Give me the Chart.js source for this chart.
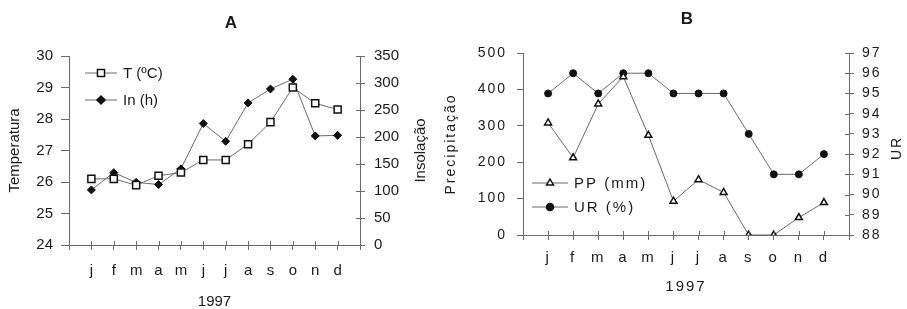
<!DOCTYPE html>
<html>
<head>
<meta charset="utf-8">
<script src="https://cdn.jsdelivr.net/npm/chart.js@4.4.1/dist/chart.umd.min.js"></script>
<style>
  html, body { margin: 0; padding: 0; background: #fff; overflow: hidden; }
  #wrapA { position: absolute; left: 0; top: 0; }
  #wrapB { position: absolute; left: 440px; top: 0; }
</style>
</head>
<body>
<div id="wrapA"><canvas id="chartA" width="440" height="309"></canvas></div>
<div id="wrapB"><canvas id="chartB" width="467" height="309"></canvas></div>
<script>
// Meses de 1997
const months = ['j', 'f', 'm', 'a', 'm', 'j', 'j', 'a', 's', 'o', 'n', 'd'];

// Grafico A
const tempC = [26.1, 26.1, 25.9, 26.2, 26.3, 26.7, 26.7, 27.2, 27.9, 29.0, 28.5, 28.3];
const insolH = [102, 134, 116, 112, 141, 225, 192, 263, 289, 307, 202, 203];

// Grafico B
const precipMM = [308, 212, 360, 435, 274, 93, 152, 117, 0, 0, 48, 89];
const umidadeRel = [95, 96, 95, 96, 96, 95, 95, 95, 93, 91, 91, 92];

const FONT = 'Liberation Sans, Arial, sans-serif';
const INK = '#1a1a1a';
const LINE = '#6a6a6a';

// one empty slot each side, like the original month axis
const xLabels = [''].concat(months, ['']);
const pad = arr => [null].concat(arr, [null]);

// legend, title, right axis title and the inner half of the tick marks
const extrasPlugin = {
    id: 'extras',
    beforeLayout(chart, args, opts) {
        if (opts.spacing) chart.ctx.letterSpacing = opts.spacing;
    },
    beforeDraw(chart, args, opts) {
        if (opts.spacing) chart.ctx.letterSpacing = opts.spacing;
    },
    afterDraw(chart, args, opts) {
        const ctx = chart.ctx;
        ctx.save();
        if (opts.spacing) ctx.letterSpacing = opts.spacing;

        // tick marks crossing the axis lines
        ctx.strokeStyle = LINE;
        ctx.lineWidth = 1;
        const area = chart.chartArea;
        const sx = chart.scales.x, sy = chart.scales.y, sy1 = chart.scales.y1;
        ctx.beginPath();
        sx.ticks.forEach((t, i) => {
            const px = Math.round(sx.getPixelForTick(i)) + 0.5;
            ctx.moveTo(px, area.bottom); ctx.lineTo(px, area.bottom - 4);
        });
        sy1.ticks.forEach((t, i) => {
            const py = Math.round(sy1.getPixelForTick(i)) + 0.5;
            ctx.moveTo(area.right, py); ctx.lineTo(area.right - 4, py);
        });
        ctx.stroke();

        ctx.fillStyle = INK;
        ctx.font = 'bold 17px ' + FONT;
        ctx.textAlign = 'center';
        ctx.textBaseline = 'middle';
        ctx.fillText(opts.title, opts.titleX, opts.titleY);

        // right axis title, read bottom to top as in the original
        ctx.save();
        ctx.font = opts.rightSize + 'px ' + FONT;
        ctx.translate(opts.rightX, (sy1.top + sy1.bottom) / 2 + opts.rightShift);
        ctx.rotate(-Math.PI / 2);
        ctx.fillText(opts.rightTitle, 0, 0);
        ctx.restore();

        ctx.font = '15px ' + FONT;
        ctx.textAlign = 'left';
        opts.items.forEach((item, i) => {
            const ds = chart.data.datasets[item.dataset];
            const y = opts.y + i * opts.rowGap;
            ctx.strokeStyle = LINE;
            ctx.lineWidth = 1;
            ctx.beginPath();
            ctx.moveTo(opts.x, y);
            ctx.lineTo(opts.x + opts.lineLen, y);
            ctx.stroke();
            drawMarker(ctx, ds.pointStyle, opts.x + opts.lineLen / 2, y, ds.pointRadius, ds.pointBackgroundColor);
            ctx.fillStyle = INK;
            ctx.fillText(ds.label, opts.x + opts.lineLen + 6, y + 1);
        });
        ctx.restore();
    }
};

function drawMarker(ctx, style, x, y, r, fill) {
    ctx.save();
    ctx.fillStyle = fill;
    ctx.strokeStyle = '#111';
    ctx.lineWidth = 1.5;
    ctx.beginPath();
    if (style === 'rect') {
        const s = r * Math.SQRT1_2;
        ctx.rect(x - s, y - s, 2 * s, 2 * s);
    } else if (style === 'rectRot') {
        ctx.moveTo(x, y - r); ctx.lineTo(x + r, y); ctx.lineTo(x, y + r); ctx.lineTo(x - r, y); ctx.closePath();
    } else if (style === 'triangle') {
        ctx.moveTo(x, y - r); ctx.lineTo(x + r * 0.866, y + r / 2); ctx.lineTo(x - r * 0.866, y + r / 2); ctx.closePath();
    } else {
        ctx.arc(x, y, r, 0, Math.PI * 2);
    }
    ctx.fill();
    ctx.stroke();
    ctx.restore();
}

function fixWidth(w) {
    return scale => { scale.width = w; scale.paddingTop = 0; scale.paddingBottom = 0; };
}
function fixHeight(h) {
    return scale => { scale.height = h; scale.paddingLeft = 0; scale.paddingRight = 0; };
}

function yAxis(side, min, max, step, title, width, cfg) {
    return {
        position: side,
        min: min,
        max: max,
        afterFit: fixWidth(width),
        border: { color: LINE, width: 1 },
        grid: { drawOnChartArea: false, color: LINE, tickLength: cfg.tickLength },
        ticks: { stepSize: step, color: INK, padding: cfg.padding, font: { family: FONT, size: cfg.size } },
        title: { display: !!title, text: title, color: INK, padding: { top: cfg.titlePad, bottom: 0 }, font: { family: FONT, size: cfg.titleSize } }
    };
}

function xAxis(height, cfg) {
    return {
        type: 'category',
        afterFit: fixHeight(height),
        border: { color: LINE, width: 1 },
        grid: { drawOnChartArea: false, color: LINE, tickLength: 5 },
        ticks: { color: INK, padding: cfg.padding, autoSkip: false, maxRotation: 0, font: { family: FONT, size: 15 } },
        title: { display: true, text: '1997', color: INK, padding: { top: 0, bottom: cfg.titlePad }, font: { family: FONT, size: 15, lineHeight: 1 } }
    };
}

// Grafico A: temperatura e insolacao
new Chart(document.getElementById('chartA'), {
    type: 'line',
    data: {
        labels: xLabels,
        datasets: [{
            label: 'T (ºC)',
            data: pad(tempC),
            yAxisID: 'y',
            borderColor: LINE,
            borderWidth: 1,
            pointStyle: 'rect',
            pointRadius: 5,
            pointBackgroundColor: '#fff',
            pointBorderColor: '#111',
            pointBorderWidth: 1.5,
            tension: 0
        }, {
            label: 'In (h)',
            data: pad(insolH),
            yAxisID: 'y1',
            borderColor: LINE,
            borderWidth: 1,
            pointStyle: 'rectRot',
            pointRadius: 4,
            pointBackgroundColor: '#111',
            pointBorderColor: '#111',
            pointBorderWidth: 1,
            tension: 0
        }]
    },
    options: {
        responsive: false,
        animation: false,
        devicePixelRatio: 1,
        layout: { padding: { top: 56, left: 0, right: 0, bottom: 0 } },
        scales: {
            x: xAxis(64, { padding: 12, titlePad: 0 }),
            y: yAxis('left', 24, 30, 1, 'Temperatura', 69, { tickLength: 8, padding: 8, size: 15, titlePad: 6, titleSize: 15 }),
            y1: yAxis('right', 0, 350, 50, '', 80, { tickLength: 5, padding: 9, size: 15, titlePad: 0, titleSize: 15 })
        },
        plugins: {
            legend: { display: false },
            tooltip: { enabled: false },
            extras: {
                title: 'A', titleX: 231, titleY: 23,
                rightTitle: 'Insolação', rightX: 421, rightShift: 0, rightSize: 15,
                x: 85, y: 73, lineLen: 32, rowGap: 27,
                items: [{ dataset: 0 }, { dataset: 1 }]
            }
        }
    },
    plugins: [extrasPlugin]
});

// Grafico B: precipitacao e umidade relativa
new Chart(document.getElementById('chartB'), {
    type: 'line',
    data: {
        labels: xLabels,
        datasets: [{
            label: 'PP (mm)',
            data: pad(precipMM),
            yAxisID: 'y',
            borderColor: LINE,
            borderWidth: 1,
            pointStyle: 'triangle',
            pointRadius: 4,
            pointBackgroundColor: '#fff',
            pointBorderColor: '#111',
            pointBorderWidth: 1.5,
            tension: 0
        }, {
            label: 'UR (%)',
            data: pad(umidadeRel),
            yAxisID: 'y1',
            borderColor: LINE,
            borderWidth: 1,
            pointStyle: 'circle',
            pointRadius: 3.5,
            pointBackgroundColor: '#111',
            pointBorderColor: '#111',
            pointBorderWidth: 1,
            tension: 0
        }]
    },
    options: {
        responsive: false,
        animation: false,
        devicePixelRatio: 1,
        layout: { padding: { top: 53, left: 0, right: 0, bottom: 0 } },
        scales: {
            x: xAxis(74, { padding: 9, titlePad: 15 }),
            y: yAxis('left', 0, 500, 100, 'Precipitação', 83, { tickLength: 6, padding: 10, size: 14, titlePad: 3, titleSize: 14 }),
            y1: yAxis('right', 88, 97, 1, '', 58, { tickLength: 5, padding: 8, size: 14, titlePad: 0, titleSize: 14 })
        },
        plugins: {
            legend: { display: false },
            tooltip: { enabled: false },
            extras: {
                spacing: '2px',
                title: 'B', titleX: 248, titleY: 19,
                rightTitle: 'UR', rightX: 457, rightShift: 4, rightSize: 14,
                x: 92, y: 183, lineLen: 36, rowGap: 24,
                items: [{ dataset: 0 }, { dataset: 1 }]
            }
        }
    },
    plugins: [extrasPlugin]
});
</script>
</body>
</html>
